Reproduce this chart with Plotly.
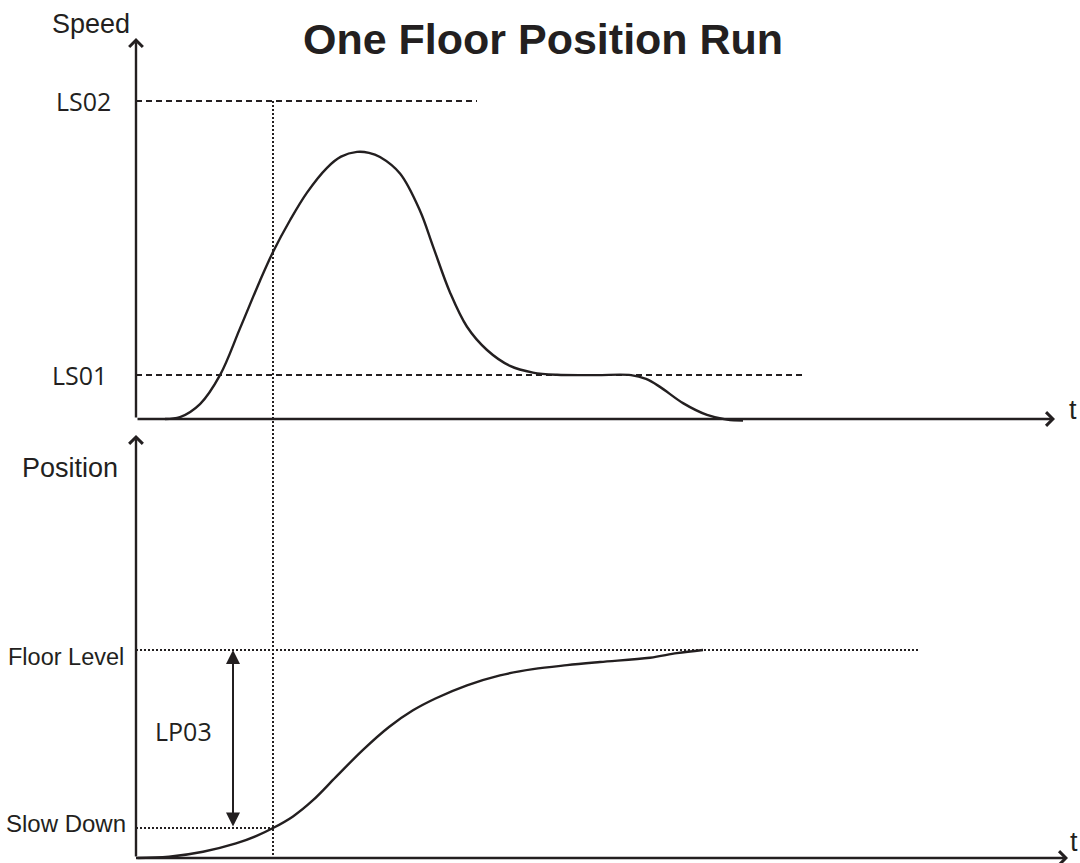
import plotly.graph_objects as go

# ---------------- data (time in arbitrary units) ----------------
speed_t = [0.29, 0.44, 0.64, 0.84, 1.04, 1.24, 1.37, 1.54, 1.71, 1.91, 2.05, 2.21, 2.33, 2.44, 2.64,
           2.84, 2.97, 3.14, 3.31, 3.51, 3.74, 3.97, 4.21, 4.60, 4.95, 5.10, 5.24, 5.47, 5.71, 5.91, 6.07]
speed_v = [0.0, 0.006, 0.047, 0.138, 0.285, 0.435, 0.525, 0.625, 0.712, 0.790, 0.825, 0.840, 0.837, 0.824, 0.772,
           0.655, 0.543, 0.398, 0.290, 0.217, 0.167, 0.146, 0.139, 0.138, 0.138, 0.126, 0.101, 0.050, 0.013, -0.002, -0.005]

pos_t = [0.0, 0.33, 0.67, 1.00, 1.20, 1.37, 1.57, 1.77, 2.00, 2.27, 2.53, 2.77, 3.00, 3.31,
         3.64, 3.97, 4.31, 4.64, 5.14, 5.41, 5.67]
pos_v = [0.0, 0.006, 0.030, 0.070, 0.105, 0.144, 0.200, 0.278, 0.390, 0.520, 0.630, 0.710, 0.768, 0.830,
         0.878, 0.908, 0.927, 0.942, 0.963, 0.985, 1.0]

level_names = ["LS02", "LS01", "Floor Level", "Slow Down"]
level_values = [1.0, 0.138, 1.0, 0.144]
level_ends = [3.41, 6.69, 7.82, 1.37]
marker_t = 1.37          # slow-down instant
lp03_t = 0.97            # LP03 distance arrow position

t_axis_end = [9.19, 9.32]       # speed / position time-axis lengths
speed_axis_end = 1.198
pos_axis_end = 2.034

# ---------------- layout helpers ----------------
W, H = 1080, 863
INK = "#231f20"
split = 1 - 425 / H
x_range = [-1.36, 9.44]
y1_range = [(419 - 425) / 318, 419 / 318]
y2_range = [(858 - 863) / 208, (858 - 425) / 208]


def P(xp, yp):
    return xp / W, 1 - yp / H


fig = go.Figure()

curve_line = dict(color=INK, width=2.4, shape="spline", smoothing=1.0)
fig.add_trace(go.Scatter(x=speed_t, y=speed_v, mode="lines", xaxis="x", yaxis="y",
                         line=curve_line, hoverinfo="skip", showlegend=False))
fig.add_trace(go.Scatter(x=pos_t, y=pos_v, mode="lines", xaxis="x2", yaxis="y2",
                         line=curve_line, hoverinfo="skip", showlegend=False))

dashed = dict(color=INK, width=2, dash="6px,4px")
dotted = dict(color=INK, width=2, dash="2px,2px")

fig.add_trace(go.Scatter(x=[0, level_ends[0]], y=[level_values[0]] * 2, mode="lines", xaxis="x", yaxis="y",
                         line=dashed, hoverinfo="skip", showlegend=False))
fig.add_trace(go.Scatter(x=[0, level_ends[1]], y=[level_values[1]] * 2, mode="lines", xaxis="x", yaxis="y",
                         line=dashed, hoverinfo="skip", showlegend=False))
fig.add_trace(go.Scatter(x=[0, level_ends[2]], y=[level_values[2]] * 2, mode="lines", xaxis="x2", yaxis="y2",
                         line=dotted, hoverinfo="skip", showlegend=False))
fig.add_trace(go.Scatter(x=[0, level_ends[3]], y=[level_values[3]] * 2, mode="lines", xaxis="x2", yaxis="y2",
                         line=dotted, hoverinfo="skip", showlegend=False))

# vertical slow-down marker through both panels
fig.add_trace(go.Scatter(x=[marker_t, marker_t], y=[level_values[0], y1_range[0]], mode="lines",
                         xaxis="x", yaxis="y", line=dotted, hoverinfo="skip", showlegend=False))
fig.add_trace(go.Scatter(x=[marker_t, marker_t], y=[y2_range[1], 0], mode="lines",
                         xaxis="x2", yaxis="y2", line=dotted, hoverinfo="skip", showlegend=False))

annotations = []


def axis_arrow(xr, yr, x, y, ax, ay):
    annotations.append(dict(xref=xr, yref=yr, axref=xr, ayref=yr, x=x, y=y, ax=ax, ay=ay,
                            text="", showarrow=True, arrowhead=4, arrowsize=1.1, arrowwidth=2.4,
                            arrowcolor=INK, standoff=0, startstandoff=0))


axis_arrow("x", "y", t_axis_end[0], 0, 0, 0)
axis_arrow("x", "y", 0, speed_axis_end, 0, 0)
axis_arrow("x2", "y2", t_axis_end[1], 0, 0, 0)
axis_arrow("x2", "y2", 0, pos_axis_end, 0, 0)

# LP03 double arrow
annotations.append(dict(xref="x2", yref="y2", axref="x2", ayref="y2",
                        x=lp03_t, y=level_values[2], ax=lp03_t, ay=level_values[3],
                        text="", showarrow=True, arrowside="end+start",
                        arrowhead=2, startarrowhead=2, arrowsize=1.4, startarrowsize=1.4,
                        arrowwidth=2, arrowcolor=INK, standoff=0, startstandoff=0))


def label(text, xp, yp, size, family="Liberation Sans", xanchor="center"):
    x, y = P(xp, yp)
    annotations.append(dict(xref="paper", yref="paper", x=x, y=y, text=text, showarrow=False,
                            xanchor=xanchor, yanchor="middle",
                            font=dict(family=family, size=size, color=INK)))


label("<b>One Floor Position Run</b>", 543, 39, 43)
label("Speed", 91, 24, 27)
label(level_names[0], 83, 101, 25, family="Open Sans")
label(level_names[1], 79, 375, 25, family="Open Sans")
label("Position", 70, 468, 27)
label(level_names[2], 126, 657, 23.5, xanchor="right")
label(level_names[3], 128, 823, 24, xanchor="right")
label("LP03", 183, 731, 25, family="Open Sans")
label("t", 1073, 410, 27)
label("t", 1074, 842, 27)

hidden = dict(visible=False, showgrid=False, zeroline=False, fixedrange=True)
fig.update_layout(
    width=W, height=H,
    margin=dict(l=0, r=0, t=0, b=0),
    paper_bgcolor="white", plot_bgcolor="white",
    xaxis=dict(domain=[0, 1], range=x_range, anchor="y", **hidden),
    yaxis=dict(domain=[split, 1], range=y1_range, anchor="x", **hidden),
    xaxis2=dict(domain=[0, 1], range=x_range, anchor="y2", **hidden),
    yaxis2=dict(domain=[0, split], range=y2_range, anchor="x2", **hidden),
    annotations=annotations,
    showlegend=False,
)

fig.write_html("out.html", include_plotlyjs=True,
               config={"displayModeBar": False},
               post_script="document.body.style.margin='0';document.body.style.overflow='hidden';")
